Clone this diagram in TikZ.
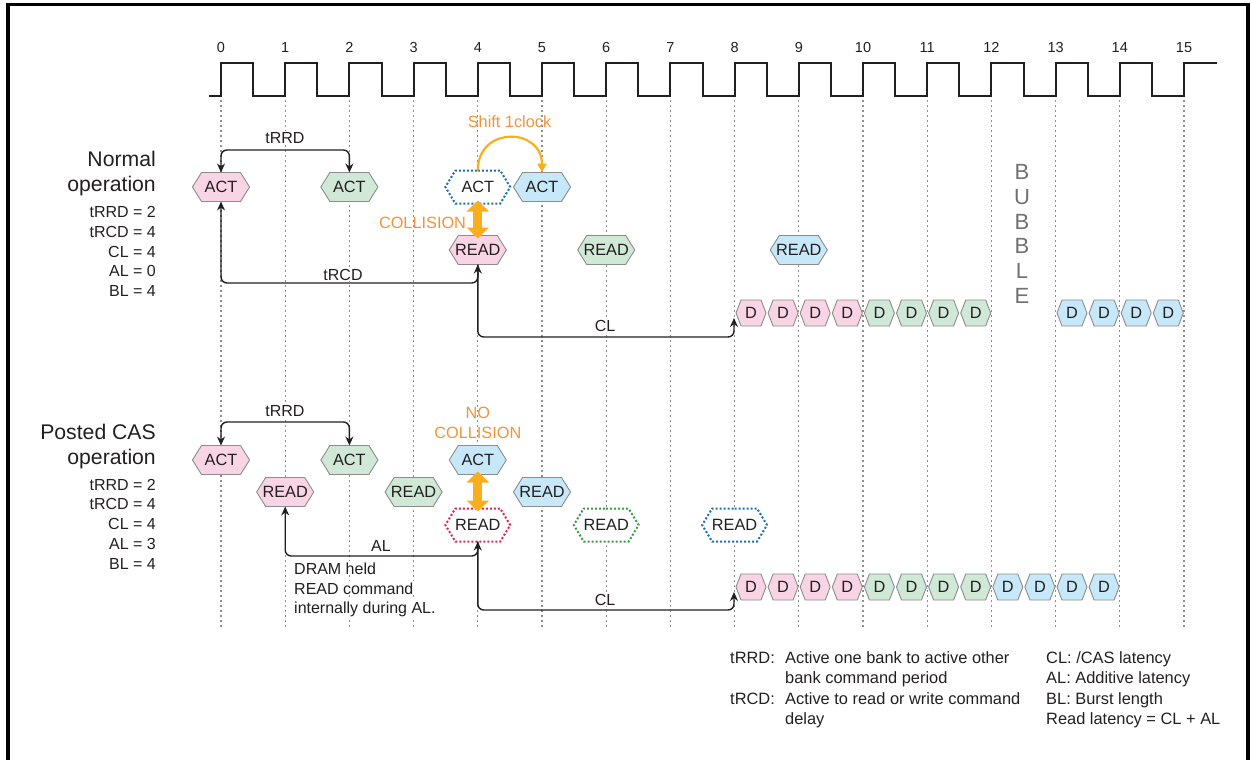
\documentclass[tikz,border=0pt]{standalone}
\usepackage{fontspec}
\setmainfont{Liberation Sans}
\usetikzlibrary{shapes.symbols,arrows.meta}
\definecolor{ink}{HTML}{231F20}
\definecolor{hexline}{HTML}{8C8C8C}
\definecolor{pinkF}{HTML}{F9D4E4}
\definecolor{greenF}{HTML}{D0E8D6}
\definecolor{blueF}{HTML}{C7E8F8}
\definecolor{dotBlue}{HTML}{1F6FB5}
\definecolor{dotRed}{HTML}{E0245A}
\definecolor{dotGreen}{HTML}{3C9A46}
\definecolor{orTxt}{HTML}{F39237}
\definecolor{orArr}{HTML}{F9AE1E}
\definecolor{gridc}{HTML}{8E8E8E}
\definecolor{bubc}{HTML}{707070}
\newcommand\hxA[1]{\makebox[39pt]{#1}}
\newcommand\hxD[1]{\makebox[20pt]{#1}}
\newcommand\hxW[1]{\makebox[45pt]{#1}}
\tikzset{
  hexbase/.style={shape=signal, signal to=east and west, inner xsep=0pt, outer sep=0pt,
    text=ink, font=\fontsize{16.3}{19}\selectfont, text height=11.7pt, text depth=0pt},
  cmdhex/.style={hexbase, draw=hexline, line width=0.9pt, inner ysep=8.65pt, signal pointer angle=116, fill=#1},
  dathex/.style={hexbase, draw=hexline, line width=0.9pt, inner ysep=7.15pt, signal pointer angle=138, fill=#1},
  dothex/.style={hexbase, draw=#1, line width=2pt, dash pattern=on 2pt off 2pt, inner ysep=10.65pt, signal pointer angle=118, fill=white},
  gridline/.style={draw=gridc, line width=1.3pt, dash pattern=on 1.8pt off 3.2pt},
  clk/.style={draw=ink, line width=2pt},
  conn/.style={draw=ink, line width=1.4pt, rounded corners=6pt},
  >={Stealth[length=9pt,width=8pt]},
  lbl/.style={text=ink, font=\fontsize{16}{19}\selectfont, inner sep=1pt, fill=white, anchor=base},
  ornote/.style={text=orTxt, font=\fontsize{16.3}{19}\selectfont, inner sep=1pt, anchor=base},
  ttl/.style={text=ink, font=\fontsize{21.2}{25}\selectfont, inner sep=0pt, anchor=base east},
  prm/.style={text=ink, font=\fontsize{16}{19}\selectfont, inner sep=0pt, anchor=base east},
  leg/.style={text=ink, font=\fontsize{16.4}{19}\selectfont, inner sep=0pt, anchor=base west},
  num/.style={text=ink, font=\fontsize{14.5}{17}\selectfont, inner sep=0pt, anchor=base},
  bub/.style={text=bubc, font=\fontsize{22}{25}\selectfont, inner sep=0pt},
  orcurve/.style={draw=orArr, line width=2.2pt, -{Triangle[length=9pt,width=9pt]}},
  orbig/.style={draw=orArr, line width=9pt, {Triangle[length=11pt,width=22pt]}-{Triangle[length=11pt,width=22pt]}, shorten <=-3pt, shorten >=-3pt}
}
\begin{document}
\begin{tikzpicture}[x=1pt,y=-1pt]
\useasboundingbox (0,0) rectangle (1251,760);
% frame
\draw[line width=3.5pt] (8,775) -- (8,4.7) -- (1248,4.7) -- (1248,775);
% clock
\draw[clk] (209,96) foreach \k in {0,...,14}{ -- ({221+64.2*\k},96) -- ({221+64.2*\k},63) -- ({253.1+64.2*\k},63) -- ({253.1+64.2*\k},96)} -- (1184,96) -- (1184,63) -- (1217,63);
\foreach \k in {0,...,15}{
  \node[num] (clk\k) at ({221+64.2*\k},53) {\k};
  \draw[gridline] ({221+64.2*\k},100) -- ({221+64.2*\k},630);
}
% left titles
\node[ttl] (nt1) at (156,166) {Normal};
\node[ttl] (nt2) at (156,191) {operation};
\node[prm] (np1) at (156,217.5) {tRRD = 2};
\node[prm] (np2) at (156,237.3) {tRCD = 4};
\node[prm] (np3) at (156,257.1) {CL = 4};
\node[prm] (np4) at (156,276.9) {AL = 0};
\node[prm] (np5) at (156,296.7) {BL = 4};
\node[ttl] (pt1) at (156,439) {Posted CAS};
\node[ttl] (pt2) at (156,464) {operation};
\node[prm] (pp1) at (156,490) {tRRD = 2};
\node[prm] (pp2) at (156,509.8) {tRCD = 4};
\node[prm] (pp3) at (156,529.6) {CL = 4};
\node[prm] (pp4) at (156,549.4) {AL = 3};
\node[prm] (pp5) at (156,569.2) {BL = 4};
% BUBBLE
\foreach \l [count=\i from 0] in {B,U,B,B,L,E}{
  \node[bub] (bub\i) at (1022,{172+24.8*\i}) {\l};
}
% ---------- normal operation ----------
\node[cmdhex=pinkF]  (aP) at (221,187) {\hxA{ACT}};
\node[cmdhex=greenF] (aG) at (349.4,187) {\hxA{ACT}};
\node[dothex=dotBlue] (aX) at (477.8,187) {\hxW{ACT}};
\node[cmdhex=blueF]  (aB) at (542,187) {\hxA{ACT}};
\node[cmdhex=pinkF]  (rP) at (477.8,250) {\hxA{READ}};
\node[cmdhex=greenF] (rG) at (606.2,250) {\hxA{READ}};
\node[cmdhex=blueF]  (rB) at (798.8,250) {\hxA{READ}};
\foreach \i in {1,...,4}{\node[dathex=pinkF] (n\i) at ({751+32.1*(\i-1)},313) {\hxD{D}};}
\foreach \i in {5,...,8}{\node[dathex=greenF] (n\i) at ({751+32.1*(\i-1)},313) {\hxD{D}};}
\foreach \i in {11,...,14}{\node[dathex=blueF] (n\i) at ({751+32.1*(\i-1)},313) {\hxD{D}};}
\coordinate (kRRD) at (285,150);
\draw[conn,<->] (aP.north) |- (kRRD) -| (aG.north);
\node[lbl] (tRRDn) at (285,143.3) {tRRD};
\coordinate (kRCD) at (343,283);
\draw[conn,<->] (aP.south) |- (kRCD) -| (rP.south);
\node[lbl] (tRCDn) at (343,280) {tRCD};
\coordinate (kCL) at (605,337);
\draw[conn,->] (rP.south) |- (kCL) -| ([xshift=-2pt,yshift=-5pt]n1.west);
\node[lbl] (CLn) at (605,331) {CL};
\draw[orcurve] (aX.north) .. controls +(0,-45) and +(0,-45) .. (aB.north);
\node[ornote] (shift) at (509.5,128) {Shift 1clock};
\draw[orbig] (aX.south) -- (rP.north);
\node[ornote] (coll) at (422.5,228) {COLLISION};
% ---------- posted CAS ----------
\node[cmdhex=pinkF]  (paP) at (221,460) {\hxA{ACT}};
\node[cmdhex=greenF] (paG) at (349.4,460) {\hxA{ACT}};
\node[cmdhex=blueF]  (paB) at (477.8,460) {\hxA{ACT}};
\node[cmdhex=pinkF]  (prP) at (285.2,492) {\hxA{READ}};
\node[cmdhex=greenF] (prG) at (413.6,492) {\hxA{READ}};
\node[cmdhex=blueF]  (prB) at (542,492) {\hxA{READ}};
\node[dothex=dotRed]   (rdR) at (477.8,525) {\hxW{READ}};
\node[dothex=dotGreen] (rdG) at (606.2,525) {\hxW{READ}};
\node[dothex=dotBlue]  (rdB) at (734.6,525) {\hxW{READ}};
\foreach \i in {1,...,4}{\node[dathex=pinkF] (m\i) at ({751+32.1*(\i-1)},587) {\hxD{D}};}
\foreach \i in {5,...,8}{\node[dathex=greenF] (m\i) at ({751+32.1*(\i-1)},587) {\hxD{D}};}
\foreach \i in {9,...,12}{\node[dathex=blueF] (m\i) at ({751+32.1*(\i-1)},587) {\hxD{D}};}
\coordinate (pRRD) at (285,422);
\draw[conn,<->] (paP.north) |- (pRRD) -| (paG.north);
\node[lbl] (ptRRD) at (285,416) {tRRD};
\coordinate (pAL) at (381,556);
\draw[conn,<->] (prP.south) |- (pAL) -| (rdR.south);
\node[lbl] (pALn) at (381,551) {AL};
\coordinate (pCL) at (605,610);
\draw[conn,->] (rdR.south) |- (pCL) -| ([xshift=-2pt,yshift=-5pt]m1.west);
\node[lbl] (pCLn) at (605,605) {CL};
\draw[orbig] (paB.south) -- (rdR.north);
\node[ornote] (no1) at (477.8,418) {NO};
\node[ornote] (no2) at (477.8,438) {COLLISION};
\node[lbl,anchor=base west] (dr1) at (293,574) {DRAM held};
\node[lbl,anchor=base west] (dr2) at (293,594) {READ command};
\node[lbl,anchor=base west] (dr3) at (293,613) {internally during AL.};
% legend
\node[leg] (lg1) at (730,663.5) {tRRD:};
\node[leg] (lg2) at (785,663.5) {Active one bank to active other};
\node[leg] (lg3) at (785,683.8) {bank command period};
\node[leg] (lg4) at (730,704.1) {tRCD:};
\node[leg] (lg5) at (785,704.1) {Active to read or write command};
\node[leg] (lg6) at (785,724.4) {delay};
\node[leg] (lg7) at (1046,663.5) {CL: /CAS latency};
\node[leg] (lg8) at (1046,683.8) {AL: Additive latency};
\node[leg] (lg9) at (1046,704.1) {BL: Burst length};
\node[leg] (lg10) at (1046,724.4) {Read latency = CL + AL};
\end{tikzpicture}
\end{document}
